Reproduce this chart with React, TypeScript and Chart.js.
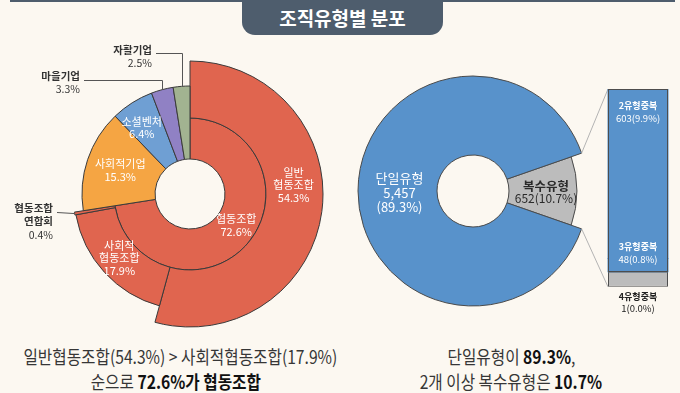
import React, { useEffect, useRef } from 'react';
import { Chart, registerables } from 'chart.js';
Chart.register(...registerables);

const FONT = '"Noto Sans CJK KR", "Noto Sans", sans-serif';

// ---------- Data: left sunburst (organization type shares, %) ----------
const coopCategory = ['협동조합'];
const coopShare = [72.6];
const outerCategories = ['일반협동조합', '사회적협동조합', '협동조합연합회', '사회적기업', '소셜벤처', '마을기업', '자활기업'];
const outerShares = [54.3, 17.9, 0.4, 15.3, 6.4, 3.3, 2.5];
const outerLabelLines = [['일반', '협동조합'], ['사회적', '협동조합'], ['협동조합', '연합회'], ['사회적기업'], ['소셜벤처'], ['마을기업'], ['자활기업']];

// ---------- Data: right (single vs multiple type) ----------
const typeCategories = ['복수유형', '단일유형'];
const typeCounts = [652, 5457];
const typeShares = [10.7, 89.3];
const multiCategories = ['2유형중복', '3유형중복', '4유형중복'];
const multiCounts = [603, 48, 1];
const multiShares = [9.9, 0.8, 0.0];

// ---------- Styles ----------
const BG = '#fcf8f1';
const SLATE = '#4e5d6d';
const RED = '#e0654f';
const outerColors = [RED, RED, RED, '#f5a543', '#6f9fd3', '#9081c4', '#a2b391'];
const outerRadii = [[0.571, 1], [0.571, 0.872], [0.571, 0.88], [0.263, 0.812], [0.263, 0.812], [0.263, 0.812], [0.263, 0.812]];
const innerRadii = [0.263, 0.571];
const insideNudge: Record<number, [number, number]> = { 0: [0, -23], 1: [0, -1], 3: [-2, -1], 4: [-10, -6] };
const coopNudge: [number, number] = [4, -5];
// callouts in left-canvas coordinates (text right edge, first text line, leader line y)
const callouts = [
  { index: 6, textX: 152, textY: 10, lineY: 13, straight: false },
  { index: 5, textX: 80, textY: 36, lineY: 40, straight: false },
  { index: 2, textX: 53, textY: 168, lineY: 172, straight: true },
];
const BLUE = '#5892cb';
const GRAY = '#bcbcbc';
const OUTLINE = '#4d4d4d';
const typeColors = [GRAY, BLUE];
const typeRadii = [[0.313, 0.904], [0.313, 1]];
const multiColors = [BLUE, BLUE, GRAY];
const multiBorderWidths = [0, 0, 1];

type Line = { text: string; font: string; color: string };
function drawLines(ctx: CanvasRenderingContext2D, lines: Line[], x: number, y: number, lh: number, align: CanvasTextAlign = 'center', fromTop = false) {
  const y0 = fromTop ? y : y - ((lines.length - 1) * lh) / 2;
  ctx.save();
  ctx.textAlign = align;
  ctx.textBaseline = 'middle';
  lines.forEach((l, i) => {
    ctx.font = l.font;
    ctx.fillStyle = l.color;
    ctx.fillText(l.text, x, y0 + i * lh);
  });
  ctx.restore();
}

const pct = (v: number) => `${v.toFixed(1)}%`;

const sunburstPlugin = {
  id: 'sunburst',
  afterDatasetsUpdate(chart: any) {
    const base = Math.min(chart.chartArea.width, chart.chartArea.height) / 2;
    chart.getDatasetMeta(0).data.forEach((arc: any, i: number) => {
      arc.innerRadius = outerRadii[i][0] * base;
      arc.outerRadius = outerRadii[i][1] * base;
    });
    chart.getDatasetMeta(1).data.forEach((arc: any) => {
      arc.innerRadius = innerRadii[0] * base;
      arc.outerRadius = innerRadii[1] * base;
    });
  },
  afterDraw(chart: any) {
    const ctx = chart.ctx as CanvasRenderingContext2D;
    const arcs = chart.getDatasetMeta(0).data;
    const white = '#ffffff';
    const f = `400 11px ${FONT}`;
    Object.keys(insideNudge).forEach((k) => {
      const i = Number(k);
      const a = arcs[i];
      const ang = (a.startAngle + a.endAngle) / 2;
      const r = (a.innerRadius + a.outerRadius) / 2;
      const [dx, dy] = insideNudge[i];
      const lines: Line[] = outerLabelLines[i].map((t) => ({ text: t, font: f, color: white }));
      lines.push({ text: pct(outerShares[i]), font: f, color: white });
      drawLines(ctx, lines, a.x + r * Math.cos(ang) + dx, a.y + r * Math.sin(ang) + dy, 12.5);
    });
    const c = chart.getDatasetMeta(1).data[0];
    const cang = (c.startAngle + c.endAngle) / 2;
    const cr = (c.innerRadius + c.outerRadius) / 2;
    drawLines(ctx, [
      { text: coopCategory[0], font: f, color: white },
      { text: pct(coopShare[0]), font: f, color: white },
    ], c.x + cr * Math.cos(cang) + coopNudge[0], c.y + cr * Math.sin(cang) + coopNudge[1], 13);

    ctx.save();
    ctx.strokeStyle = '#555';
    ctx.lineWidth = 1;
    callouts.forEach((co) => {
      const a = arcs[co.index];
      const ang = (a.startAngle + a.endAngle) / 2;
      const px = a.x + a.outerRadius * Math.cos(ang);
      const py = a.y + a.outerRadius * Math.sin(ang);
      ctx.beginPath();
      ctx.moveTo(co.textX + 4, co.lineY + 0.5);
      if (co.straight) {
        ctx.lineTo(px, py);
      } else {
        ctx.lineTo(Math.round(px) + 0.5, co.lineY + 0.5);
        ctx.lineTo(Math.round(px) + 0.5, py);
      }
      ctx.stroke();
      const lines: Line[] = outerLabelLines[co.index].map((t) => ({ text: t, font: `700 10.5px ${FONT}`, color: '#333' }));
      lines.push({ text: pct(outerShares[co.index]), font: `400 10.5px ${FONT}`, color: '#333' });
      drawLines(ctx, lines, co.textX, co.textY, 13.5, 'right', true);
    });
    ctx.restore();
  },
};

const barLabelPlugin = {
  id: 'barLabels',
  afterDatasetsDraw(chart: any) {
    // one outline around the blue (2- and 3-type) part of the stack
    const ctx = chart.ctx as CanvasRenderingContext2D;
    const a = chart.getDatasetMeta(0).data[0];
    const b = chart.getDatasetMeta(1).data[0];
    const top = Math.min(a.y, a.base);
    const bottom = Math.max(b.y, b.base);
    const l = a.x - a.width / 2;
    ctx.save();
    ctx.strokeStyle = OUTLINE;
    ctx.lineWidth = 1;
    ctx.strokeRect(Math.round(l) + 0.5, Math.round(top) + 0.5, Math.round(a.width) - 1, Math.round(bottom - top) - 1);
    ctx.restore();
  },
  afterDraw(chart: any) {
    const ctx = chart.ctx as CanvasRenderingContext2D;
    const els = [0, 1, 2].map((d) => chart.getDatasetMeta(d).data[0]);
    const bold = `700 9px ${FONT}`;
    const reg = `400 9.5px ${FONT}`;
    const mk = (i: number, color: string): Line[] => [
      { text: multiCategories[i], font: bold, color },
      { text: `${multiCounts[i]}(${pct(multiShares[i])})`, font: reg, color },
    ];
    const top0 = Math.min(els[0].y, els[0].base);
    drawLines(ctx, mk(0, '#fff'), els[0].x, top0 + 17, 12.5, 'center', true);
    const bot1 = Math.max(els[1].y, els[1].base);
    drawLines(ctx, mk(1, '#fff'), els[1].x, bot1 - 25, 13, 'center', true);
    const bot2 = Math.max(els[2].y, els[2].base);
    drawLines(ctx, mk(2, '#222'), els[2].x, bot2 + 10, 12, 'center', true);
  },
};

function makePiePlugin(bar: any) {
  return {
    id: 'pieExtras',
    afterDatasetsUpdate(chart: any) {
      const base = Math.min(chart.chartArea.width, chart.chartArea.height) / 2;
      chart.getDatasetMeta(0).data.forEach((arc: any, i: number) => {
        arc.innerRadius = typeRadii[i][0] * base;
        arc.outerRadius = typeRadii[i][1] * base;
      });
    },
    afterDraw(chart: any) {
      const ctx = chart.ctx as CanvasRenderingContext2D;
      const arcs = chart.getDatasetMeta(0).data;
      const single = arcs[1];
      const multi = arcs[0];
      // connectors to the breakdown bar
      const pr = chart.canvas.getBoundingClientRect();
      const br = bar.canvas.getBoundingClientRect();
      const ox = br.left - pr.left;
      const oy = br.top - pr.top;
      const b0 = bar.getDatasetMeta(0).data[0];
      const b2 = bar.getDatasetMeta(2).data[0];
      const R = single.outerRadius;
      ctx.save();
      ctx.strokeStyle = '#b3b3b3';
      ctx.lineWidth = 1;
      ctx.beginPath();
      ctx.moveTo(single.x + R * Math.cos(single.endAngle), single.y + R * Math.sin(single.endAngle));
      ctx.lineTo(b0.x - b0.width / 2 + ox, Math.min(b0.y, b0.base) + oy);
      ctx.moveTo(single.x + R * Math.cos(single.startAngle), single.y + R * Math.sin(single.startAngle));
      ctx.lineTo(b2.x - b2.width / 2 + ox, Math.max(b2.y, b2.base) + oy);
      ctx.stroke();
      ctx.restore();

      const sAng = (single.startAngle + single.endAngle) / 2;
      const sR = (single.innerRadius + single.outerRadius) / 2;
      const wf = `400 13px ${FONT}`;
      drawLines(ctx, [
        { text: typeCategories[1], font: wf, color: '#fff' },
        { text: typeCounts[1].toLocaleString('en-US'), font: wf, color: '#fff' },
        { text: `(${pct(typeShares[1])})`, font: wf, color: '#fff' },
      ], single.x + sR * Math.cos(sAng) + 2, single.y + sR * Math.sin(sAng) + 2, 14.5);
      const mAng = (multi.startAngle + multi.endAngle) / 2;
      const mR = (multi.innerRadius + multi.outerRadius) / 2;
      drawLines(ctx, [
        { text: typeCategories[0], font: `700 12.5px ${FONT}`, color: '#2a2a2a' },
        { text: `${typeCounts[0]}(${pct(typeShares[0])})`, font: `400 12px ${FONT}`, color: '#2a2a2a' },
      ], multi.x + mR * Math.cos(mAng) + 3, multi.y + mR * Math.sin(mAng) + 1, 12.5);
    },
  };
}

export default function App() {
  const leftRef = useRef<HTMLCanvasElement>(null);
  const pieRef = useRef<HTMLCanvasElement>(null);
  const barRef = useRef<HTMLCanvasElement>(null);

  useEffect(() => {
    const innerValues = [coopShare[0], ...outerShares.slice(3)];
    const left = new Chart(leftRef.current!, {
      type: 'doughnut',
      data: {
        labels: outerCategories,
        datasets: [
          { data: outerShares, backgroundColor: outerColors, borderColor: '#3a3a3a', borderWidth: 1 },
          {
            data: innerValues,
            backgroundColor: innerValues.map((_, i) => (i === 0 ? RED : 'rgba(0,0,0,0)')),
            borderColor: '#3a3a3a',
            borderWidth: innerValues.map((_, i) => (i === 0 ? 1 : 0)),
          },
        ],
      },
      options: {
        responsive: false,
        animation: false,
        events: [],
        hoverOffset: 0,
        layout: { padding: { left: 57, right: 17, top: 21, bottom: 3 } },
        plugins: { legend: { display: false }, tooltip: { enabled: false } },
      } as any,
      plugins: [sunburstPlugin as any],
    });

    const bar = new Chart(barRef.current!, {
      type: 'bar',
      data: {
        labels: ['복수유형'],
        datasets: multiCategories.map((c, i) => ({
          label: c,
          data: [multiCounts[i]],
          backgroundColor: multiColors[i],
          borderColor: OUTLINE,
          borderWidth: multiBorderWidths[i],
          borderSkipped: false,
          inflateAmount: multiBorderWidths[i] ? 0 : 0.5,
          minBarLength: i === 2 ? 15 : 0,
          barPercentage: 0.75,
          categoryPercentage: 1,
        })),
      } as any,
      options: {
        responsive: false,
        animation: false,
        events: [],
        layout: { padding: { top: 9, bottom: 31, left: 0, right: 0 } },
        scales: {
          x: { display: false, stacked: true },
          y: { display: false, stacked: true, reverse: true, min: 0, max: 712 },
        },
        plugins: { legend: { display: false }, tooltip: { enabled: false } },
      } as any,
      plugins: [barLabelPlugin as any],
    });

    const total = typeCounts.reduce((a, b) => a + b, 0);
    const pie = new Chart(pieRef.current!, {
      type: 'doughnut',
      data: {
        labels: typeCategories,
        datasets: [{ data: typeCounts, backgroundColor: typeColors, borderColor: '#4a4a4a', borderWidth: 1 }],
      },
      options: {
        responsive: false,
        animation: false,
        events: [],
        hoverOffset: 0,
        rotation: 90 - (typeCounts[0] / total) * 180,
        layout: { padding: { left: 18, right: 92, top: 36, bottom: 24 } },
        plugins: { legend: { display: false }, tooltip: { enabled: false } },
      } as any,
      plugins: [makePiePlugin(bar) as any],
    });

    return () => {
      left.destroy();
      pie.destroy();
      bar.destroy();
    };
  }, []);

  const lineStyle: React.CSSProperties = {
    height: 25,
    lineHeight: '25px',
    whiteSpace: 'nowrap',
  };
  const inner: React.CSSProperties = { display: 'inline-block', transform: 'scaleX(0.87)' };
  const reg: React.CSSProperties = { color: '#363636', fontWeight: 400 };
  const bold: React.CSSProperties = { color: '#111', fontWeight: 700 };

  return (
    <div style={{ position: 'fixed', left: 0, top: 0, width: 680, height: 393, background: BG, overflow: 'hidden', fontFamily: FONT }}>
      <div style={{ position: 'absolute', left: 10, top: 0, width: 665, height: 2, background: SLATE }} />
      <div style={{ position: 'absolute', left: 242, top: 0, width: 201, height: 35, background: SLATE, borderRadius: '0 0 13px 13px', color: '#fff', fontWeight: 700, fontSize: 19, lineHeight: '35px', textAlign: 'center' }}>
        조직유형별 분포
      </div>
      <canvas ref={leftRef} width={340} height={290} style={{ position: 'absolute', left: 0, top: 40, width: 340, height: 290 }} />
      <canvas ref={pieRef} width={340} height={290} style={{ position: 'absolute', left: 340, top: 40, width: 340, height: 290 }} />
      <canvas ref={barRef} width={80} height={240} style={{ position: 'absolute', left: 598, top: 80, width: 80, height: 240 }} />
      <div style={{ position: 'absolute', left: 0, top: 344, width: 352, textAlign: 'center', fontSize: 18 }}>
        <div style={lineStyle}><span style={inner}><span style={reg}>일반협동조합(54.3%) &gt; 사회적협동조합(17.9%)</span></span></div>
        <div style={lineStyle}><span style={inner}><span style={reg}>순으로 </span><span style={bold}>72.6%가 협동조합</span></span></div>
      </div>
      <div style={{ position: 'absolute', left: 341, top: 344, width: 340, textAlign: 'center', fontSize: 18 }}>
        <div style={lineStyle}><span style={inner}><span style={reg}>단일유형이 </span><span style={bold}>89.3%</span><span style={reg}>,</span></span></div>
        <div style={lineStyle}><span style={inner}><span style={reg}>2개 이상 복수유형은 </span><span style={bold}>10.7%</span></span></div>
      </div>
    </div>
  );
}
